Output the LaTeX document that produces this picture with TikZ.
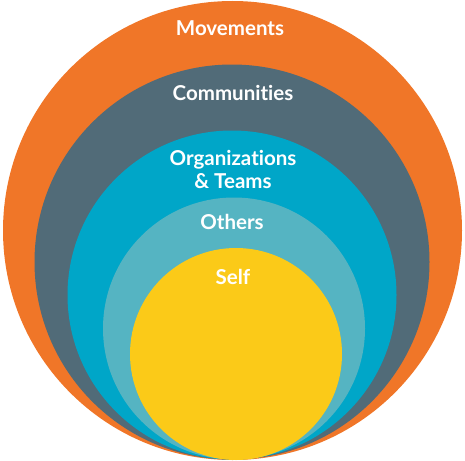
\documentclass[tikz,border=0pt]{standalone}
\usepackage{fontspec}
\setmainfont{Lato}[Ligatures={NoCommon,TeX}]
\definecolor{cOrange}{HTML}{F07628}
\definecolor{cSlate}{HTML}{516B78}
\definecolor{cTeal}{HTML}{00A6C8}
\definecolor{cLight}{HTML}{55B4C2}
\definecolor{cYellow}{HTML}{FBCA18}
\begin{document}
\begin{tikzpicture}[x=1pt,y=-1pt,
  ring/.style={circle, inner sep=0pt, minimum size=#1},
  lbl/.style={text=white, font=\fontsize{20.5}{23}\selectfont\bfseries, align=center, inner sep=0pt}]
\useasboundingbox (0,0) rectangle (465,460);
\node[ring=459pt, fill=cOrange] (movements) at (232.5,230.5) {};
\node[ring=395pt, fill=cSlate] (communities) at (232,262) {};
\node[ring=329pt, fill=cTeal] (orgs) at (232,295) {};
\node[ring=262pt, fill=cLight] (others) at (234,328.5) {};
\node[ring=212pt, fill=cYellow] (self) at (236,354) {};
\node[lbl] (tMov) at (230,28) {Movements};
\node[lbl] (tCom) at (233,93) {Communities};
\node[lbl] (tOrg) at (233,169) {Organizations\\\& Teams};
\node[lbl] (tOth) at (232,222) {Others};
\node[lbl] (tSelf) at (233,277) {Self};
\end{tikzpicture}
\end{document}
